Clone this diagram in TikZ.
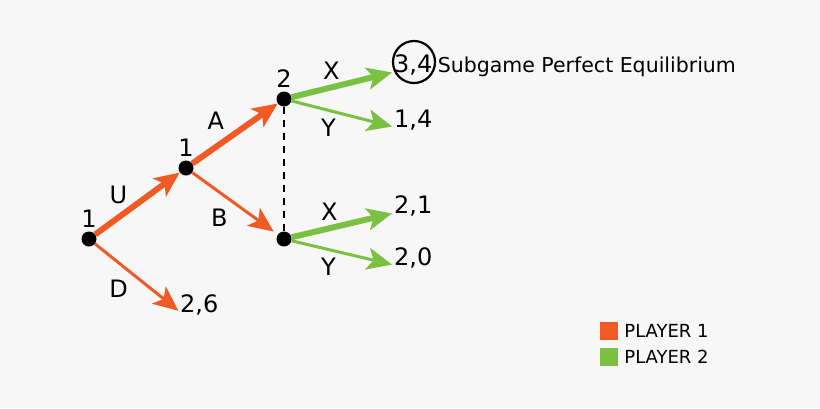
\documentclass[tikz,border=0pt]{standalone}
\usepackage{fontspec}
\setmainfont{DejaVu Sans}
\usepackage{tikz}
\usetikzlibrary{arrows.meta,positioning,shapes}
\definecolor{playerone}{RGB}{241,90,36}
\definecolor{playertwo}{RGB}{122,193,66}
\definecolor{backgr}{RGB}{247,247,247}
\tikzset{%
	decision/.style = {circle, fill=black, inner sep=0pt, minimum size=15pt},
	payoff/.style   = {anchor=base west, inner sep=0pt, font=\fontsize{24}{28}\selectfont},
	strong/.style   = {line width=6pt, -{Stealth[length=25pt,width=22pt,inset=6pt]}},
	weak/.style     = {line width=3pt, -{Stealth[length=25pt,width=22pt,inset=6pt]}},
	key/.style      = {rectangle, minimum size=18pt, inner sep=0pt},
}
\begin{document}
\begin{tikzpicture}[x=1pt,y=-1pt,font=\fontsize{24}{28}\selectfont,label distance=0pt]
	\fill[backgr] (0,0) rectangle (820,408);
	\useasboundingbox (0,0) rectangle (820,408);
	
	\node[decision, label=above:1] (root)    at (89,239)  {};
	\node[decision, label=above:1] (one)     at (186,168) {};
	\node[decision, label=above:2] (twoup)   at (284,99)  {};
	\node[decision]                (twodown) at (284,239) {};
	
	\node[payoff] (ptwosix)    at (180,312) {2,6};
	\node[payoff] (pthreefour) at (394,72)  {3,4};
	\node[payoff] (ponefour)   at (394,127) {1,4};
	\node[payoff] (ptwoone)    at (394,213) {2,1};
	\node[payoff] (ptwozero)   at (394,265) {2,0};
	
	\draw[line width=2.2pt] (414,62) circle (21pt);
	\node[inner sep=0pt, font=\fontsize{20.5}{24}\selectfont, base right=5pt of pthreefour] (spe) {Subgame Perfect Equilibrium};
	
	\draw[playerone, text=black, strong] (root) -- node[inner sep=1pt, pos=.425, above left] {U} (one);
	\draw[playerone, text=black, weak, shorten >=2pt] (root) -- node[inner sep=4pt, pos=.45, below left] {D} (ptwosix.base west);
	\draw[playerone, text=black, strong] (one) -- node[inner sep=4pt, pos=.455, above left] {A} (twoup);
	\draw[playerone, text=black, weak, shorten >=5pt] (one) -- node[inner sep=5pt, pos=.49, below left] {B} (twodown);
	
	\draw[line width=2pt, dash pattern=on 7pt off 6pt] (twoup) -- (twodown);
	
	\draw[playertwo, text=black, strong, shorten >=2pt] (twoup) -- node[inner sep=5pt, pos=.39, above] {X} (pthreefour.base west);
	\draw[playertwo, text=black, weak, shorten >=2pt] (twoup) -- node[inner sep=7pt, pos=.36, below] {Y} (ponefour.base west);
	\draw[playertwo, text=black, strong, shorten >=2pt] (twodown) -- node[inner sep=5pt, pos=.37, above] {X} (ptwoone.base west);
	\draw[playertwo, text=black, weak, shorten >=2pt] (twodown) -- node[inner sep=7pt, pos=.36, below] {Y} (ptwozero.base west);
	
	% legend
	\node[key, fill=playerone] (keyone) at (609,331) {};
	\node[key, fill=playertwo] (keytwo) at (609,357) {};
	\node[right=6pt of keyone, inner sep=0pt, font=\fontsize{18}{21}\selectfont] {PLAYER 1};
	\node[right=6pt of keytwo, inner sep=0pt, font=\fontsize{18}{21}\selectfont] {PLAYER 2};
\end{tikzpicture}
\end{document}
